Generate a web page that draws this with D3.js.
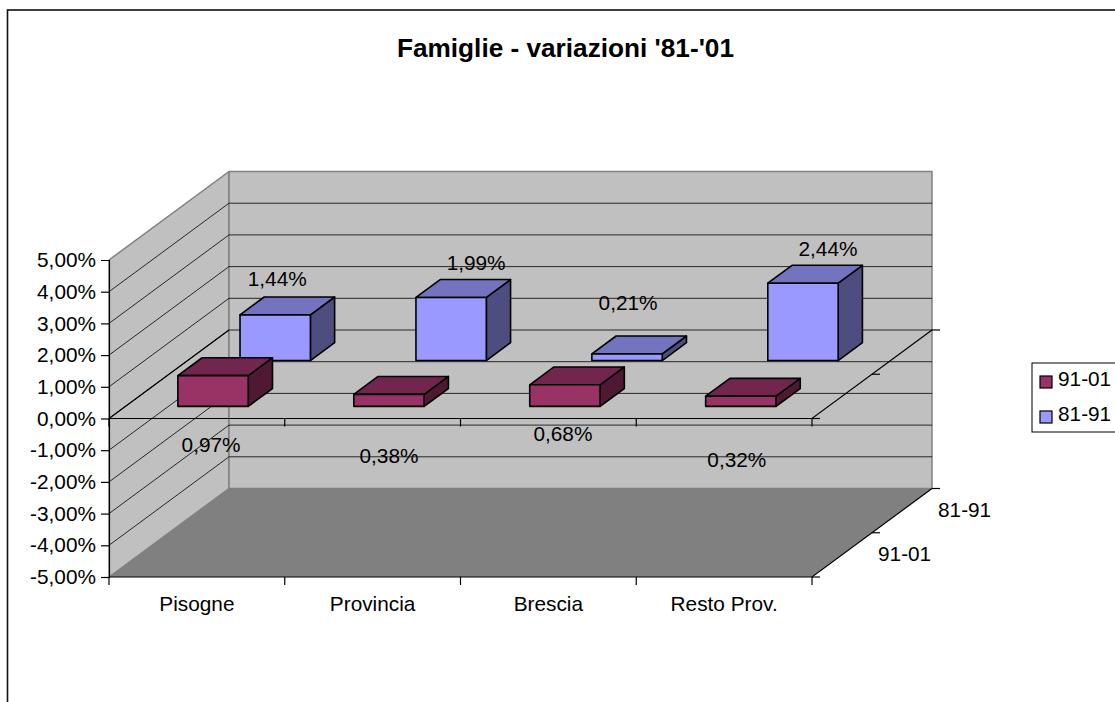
<!DOCTYPE html>
<html>
<head>
<meta charset="utf-8">
<script src="https://cdn.jsdelivr.net/npm/d3@7"></script>
<style>
  html, body { margin: 0; padding: 0; background: #fff; overflow: hidden; }
  svg { display: block; font-family: "Liberation Sans", Arial, sans-serif; fill: #000; }
</style>
</head>
<body>
<div id="chart"></div>
<script>
const categorie = ["Pisogne", "Provincia", "Brescia", "Resto Prov."];
const serie = ["91-01", "81-91"];
const valori9101 = [0.97, 0.38, 0.68, 0.32];
const valori8191 = [1.44, 1.99, 0.21, 2.44];
const tickY = [-5, -4, -3, -2, -1, 0, 1, 2, 3, 4, 5];

const width = 1115, height = 702;
const frontLeft = 109, frontRight = 812;
const frontTop = 260, frontBottom = 577;
const depthDx = 120, depthDy = -88.5;
const fontSize = 20.8;

const colori = {
  "91-01": { front: "#993366", top: "#73264d", side: "#4d1933" },
  "81-91": { front: "#9999ff", top: "#7373bf", side: "#4d4d80" }
};

// spostamenti delle etichette rispetto allo spigolo alto della faccia frontale
const spostaEtichette = {
  "91-01": [[-2, 69], [0, 61], [-2, 49], [-4, 63]],
  "81-91": [[2, -36], [25, -35], [1, -51], [25, -34]]
};

const x = d3.scaleBand().domain(categorie).range([frontLeft, frontRight]).paddingInner(0.6).paddingOuter(0.298);
const xGruppi = d3.scaleBand().domain(categorie).range([frontLeft, frontRight]);
const y = d3.scaleLinear().domain([-5, 5]).range([frontBottom, frontTop]);
const z = d3.scaleBand().domain(serie).range([-0.008, 1.002]).paddingInner(0.61).paddingOuter(0.28);
const zAsse = d3.scalePoint().domain(serie).range([0.25, 0.75]);

const locale = d3.formatLocale({ decimal: ",", thousands: ".", grouping: [3], currency: ["", "€"], minus: "-" });
const fmt = (v) => locale.format(".2f")(v) + "%";

const px = (xv, d) => xv + d * depthDx;
const py = (v, d) => y(v) + d * depthDy;
const pt = (xv, v, d) => `${px(xv, d)},${py(v, d)}`;

const svg = d3.select("#chart").append("svg").attr("width", width).attr("height", height).attr("viewBox", `0 0 ${width} ${height}`);

svg.append("rect").attr("x", 7.5).attr("y", 10).attr("width", width + 20).attr("height", height + 20)
  .attr("fill", "#fff").attr("stroke", "#111").attr("stroke-width", 1.6);

svg.append("text").attr("x", 565.5).attr("y", 57).attr("text-anchor", "middle")
  .attr("font-size", 26.2).attr("font-weight", "bold").text("Famiglie - variazioni '81-'01");

// pareti e pavimento
const pareti = svg.append("g").attr("stroke", "#808080").attr("stroke-width", 1.5).attr("stroke-linejoin", "round");
pareti.append("polygon").attr("fill", "#c0c0c0")
  .attr("points", [pt(frontLeft, -5, 0), pt(frontLeft, 5, 0), pt(frontLeft, 5, 1), pt(frontLeft, -5, 1)].join(" "));
pareti.append("polygon").attr("fill", "#c0c0c0")
  .attr("points", [pt(frontLeft, -5, 1), pt(frontLeft, 5, 1), pt(frontRight, 5, 1), pt(frontRight, -5, 1)].join(" "));
pareti.append("polygon").attr("fill", "#808080").attr("stroke", "none")
  .attr("points", [pt(frontLeft, -5, 0), pt(frontLeft, -5, 1), pt(frontRight, -5, 1), pt(frontRight, -5, 0)].join(" "));

// griglia
const griglia = svg.append("g").attr("stroke", "#000").attr("stroke-width", 1).attr("stroke-opacity", 0.8).attr("fill", "none");
griglia.selectAll("polyline").data(tickY.filter((t) => t > -5 && t < 5)).join("polyline")
  .attr("points", (t) => [pt(frontLeft, t, 0), pt(frontLeft, t, 1), pt(frontRight, t, 1)].join(" "));

// piano dello zero e pavimento: linee e tacche
const assi = svg.append("g").attr("stroke", "#000").attr("stroke-width", 1.2).attr("fill", "none");
[0, -5].forEach((livello) => {
  assi.append("polyline").attr("points", [pt(frontLeft, livello, 0), pt(frontRight, livello, 0), pt(frontRight, livello, 1)].join(" "));
  [...categorie.map((c) => xGruppi(c)), frontRight].forEach((xv) => {
    assi.append("line").attr("x1", xv).attr("x2", xv).attr("y1", y(livello)).attr("y2", y(livello) + 8);
  });
  [0, 0.5, 1].forEach((d) => {
    assi.append("line").attr("x1", px(frontRight, d)).attr("x2", px(frontRight, d) + 8)
      .attr("y1", py(livello, d)).attr("y2", py(livello, d));
  });
});
assi.append("line").attr("x1", px(frontLeft, 0)).attr("y1", py(0, 0)).attr("x2", px(frontLeft, 1)).attr("y2", py(0, 1));

// barre: prima la serie in fondo, poi quella davanti
const valoriSerie = { "91-01": valori9101, "81-91": valori8191 };
const righe = [];
serie.slice().reverse().forEach((s) => {
  categorie.forEach((c, i) => righe.push({ serie: s, categoria: c, valore: valoriSerie[s][i], sposta: spostaEtichette[s][i] }));
});

const barre = svg.selectAll("g.barra").data(righe).join("g").attr("class", "barra")
  .attr("stroke", "#000").attr("stroke-width", 1.6).attr("stroke-linejoin", "round");

barre.append("polygon").attr("fill", (d) => colori[d.serie].side).attr("points", (d) => {
  const a = x(d.categoria) + x.bandwidth(), d0 = z(d.serie), d1 = d0 + z.bandwidth();
  return [pt(a, 0, d0), pt(a, d.valore, d0), pt(a, d.valore, d1), pt(a, 0, d1)].join(" ");
});
barre.append("polygon").attr("fill", (d) => colori[d.serie].top).attr("points", (d) => {
  const a = x(d.categoria), b = a + x.bandwidth(), d0 = z(d.serie), d1 = d0 + z.bandwidth();
  return [pt(a, d.valore, d0), pt(a, d.valore, d1), pt(b, d.valore, d1), pt(b, d.valore, d0)].join(" ");
});
barre.append("polygon").attr("fill", (d) => colori[d.serie].front).attr("points", (d) => {
  const a = x(d.categoria), b = a + x.bandwidth(), d0 = z(d.serie);
  return [pt(a, 0, d0), pt(a, d.valore, d0), pt(b, d.valore, d0), pt(b, 0, d0)].join(" ");
});

// etichette dei valori
svg.append("g").attr("font-size", fontSize).attr("text-anchor", "middle")
  .selectAll("text").data(righe).join("text")
  .attr("x", (d) => px(x(d.categoria) + x.bandwidth() / 2, z(d.serie)) + d.sposta[0])
  .attr("y", (d) => py(d.valore, z(d.serie)) + d.sposta[1])
  .attr("dy", "0.35em")
  .text((d) => fmt(d.valore));

// asse verticale
const assey = svg.append("g").attr("transform", `translate(${frontLeft},0)`)
  .call(d3.axisLeft(y).tickValues(tickY).tickFormat(fmt).tickSize(8).tickPadding(5));
assey.selectAll("path,line").attr("stroke", "#000").attr("stroke-width", 1.2);
assey.selectAll(".tick").filter((t) => t === 5).select("line").remove();
assey.selectAll("text").attr("font-size", fontSize).attr("fill", "#000");
assey.attr("font-family", null);

// etichette delle categorie
const assex = svg.append("g").attr("transform", `translate(0,${frontBottom})`)
  .call(d3.axisBottom(xGruppi).tickSize(0).tickPadding(19));
assex.select("path").remove();
assex.selectAll("text").attr("font-size", fontSize).attr("fill", "#000");
assex.attr("font-family", null);

// etichette di profondità
svg.append("g").attr("font-size", fontSize).attr("text-anchor", "start")
  .selectAll("text").data(serie).join("text")
  .attr("x", (s) => px(frontRight, zAsse(s)) + 36)
  .attr("y", (s) => py(-5, zAsse(s)) - 1)
  .attr("dy", "0.35em")
  .text((s) => s);

// legenda
const legenda = svg.append("g").attr("transform", "translate(1032,363)");
legenda.append("rect").attr("x", 0).attr("y", 0).attr("width", 120).attr("height", 69)
  .attr("fill", "#fff").attr("stroke", "#000").attr("stroke-width", 1);
const voci = legenda.selectAll("g").data(serie).join("g").attr("transform", (s, i) => `translate(8,${13 + i * 35})`);
voci.append("rect").attr("width", 12).attr("height", 12)
  .attr("fill", (s) => colori[s].front).attr("stroke", "#000").attr("stroke-width", 1.2);
voci.append("text").attr("x", 18).attr("y", 3).attr("dy", "0.35em").attr("font-size", fontSize).text((s) => s);
</script>
</body>
</html>
